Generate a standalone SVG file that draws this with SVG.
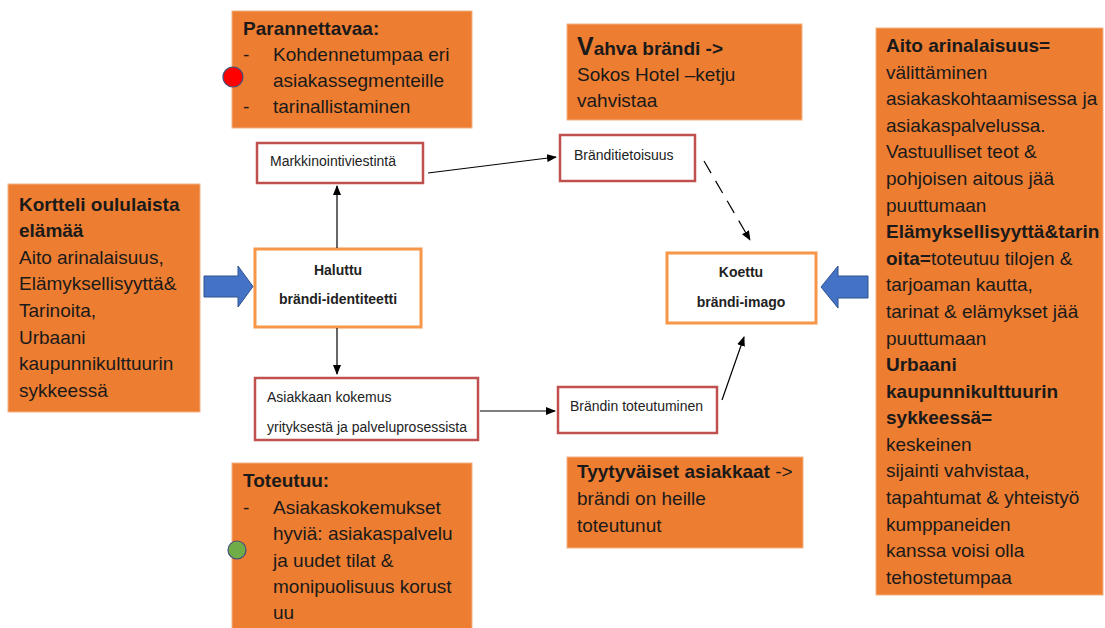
<svg xmlns="http://www.w3.org/2000/svg" width="1105" height="628" viewBox="0 0 1105 628">
<style>
.note{fill:#ed7d31;stroke:#f4b183;stroke-width:1}
.t{font-family:"Liberation Sans",Arial,sans-serif;font-size:19px;fill:#1a1a1a}
.b{font-weight:bold}
.node-red{fill:#fff;stroke:#c0504d;stroke-width:2.5}
.node-or{fill:#fff;stroke:#f79646;stroke-width:3}
.s{font-family:"Liberation Sans",Arial,sans-serif;font-size:14px;fill:#222}
.sb{font-family:"Liberation Sans",Arial,sans-serif;font-size:14px;font-weight:bold;fill:#222}
.ln{stroke:#000;stroke-width:1.2;fill:none}
.blue{fill:#4472c4;stroke:#2f528f;stroke-width:1}
</style>
<defs>
<marker id="ah" markerWidth="10" markerHeight="8" refX="9" refY="4" orient="auto" markerUnits="userSpaceOnUse">
<path d="M0,0 L10,4 L0,8 Z" fill="#000"/>
</marker>
</defs>
<rect width="1105" height="628" fill="#fff"/>

<g id="parannettavaa">
<rect class="note" x="232" y="11" width="240" height="117"/>
<circle cx="233" cy="77" r="10" fill="#ff0000" stroke="#41507a" stroke-width="1.2"/>
<text class="t b" x="243" y="35">Parannettavaa:</text>
<text class="t" x="243" y="61">-</text><text class="t" x="273" y="61">Kohdennetumpaa eri</text>
<text class="t" x="273" y="87">asiakassegmenteille</text>
<text class="t" x="243" y="113">-</text><text class="t" x="273" y="113">tarinallistaminen</text>
</g>

<g id="vahva">
<rect class="note" x="567" y="24" width="235" height="96"/>
<text class="t b" x="577" y="55"><tspan font-size="25">V</tspan>ahva brändi -&gt;</text>
<text class="t" x="577" y="81">Sokos Hotel –ketju</text>
<text class="t" x="577" y="107">vahvistaa</text>
</g>

<g id="kortteli">
<rect class="note" x="8" y="184" width="192" height="228"/>
<text class="t b" x="19" y="211">Kortteli oululaista</text>
<text class="t b" x="19" y="237">elämää</text>
<text class="t" x="19" y="264">Aito arinalaisuus,</text>
<text class="t" x="19" y="290">Elämyksellisyyttä&amp;</text>
<text class="t" x="19" y="317">Tarinoita,</text>
<text class="t" x="19" y="344">Urbaani</text>
<text class="t" x="19" y="370">kaupunnikulttuurin</text>
<text class="t" x="19" y="397">sykkeessä</text>
</g>

<g id="oikea">
<rect class="note" x="876" y="28" width="227" height="567"/>
<text class="t b" x="886" y="52">Aito arinalaisuus=</text>
<text class="t" x="886" y="79">välittäminen</text>
<text class="t" x="886" y="105">asiakaskohtaamisessa ja</text>
<text class="t" x="886" y="132">asiakaspalvelussa.</text>
<text class="t" x="886" y="158">Vastuulliset teot &amp;</text>
<text class="t" x="886" y="185">pohjoisen aitous jää</text>
<text class="t" x="886" y="212">puuttumaan</text>
<text class="t b" x="886" y="238">Elämyksellisyyttä&amp;tarin</text>
<text class="t" x="886" y="265"><tspan class="b">oita=</tspan>toteutuu tilojen &amp;</text>
<text class="t" x="886" y="291">tarjoaman kautta,</text>
<text class="t" x="886" y="318">tarinat &amp; elämykset jää</text>
<text class="t" x="886" y="345">puuttumaan</text>
<text class="t b" x="886" y="371">Urbaani</text>
<text class="t b" x="886" y="398">kaupunnikulttuurin</text>
<text class="t b" x="886" y="424">sykkeessä=</text>
<text class="t" x="886" y="451">keskeinen</text>
<text class="t" x="886" y="477">sijainti vahvistaa,</text>
<text class="t" x="886" y="504">tapahtumat &amp; yhteistyö</text>
<text class="t" x="886" y="531">kumppaneiden</text>
<text class="t" x="886" y="557">kanssa voisi olla</text>
<text class="t" x="886" y="584">tehostetumpaa</text>
</g>

<g id="toteutuu">
<rect class="note" x="232" y="463" width="240" height="170"/>
<circle cx="237" cy="550" r="9" fill="#70ad47" stroke="#41507a" stroke-width="1.2"/>
<text class="t b" x="243" y="487">Toteutuu:</text>
<text class="t" x="243" y="514">-</text><text class="t" x="273" y="514">Asiakaskokemukset</text>
<text class="t" x="273" y="540">hyviä: asiakaspalvelu</text>
<text class="t" x="273" y="567">ja uudet tilat &amp;</text>
<text class="t" x="273" y="593">monipuolisuus korust</text>
<text class="t" x="273" y="619">uu</text>
</g>

<g id="tyytyvaiset">
<rect class="note" x="567" y="457" width="236" height="91"/>
<text class="t" x="577" y="478"><tspan class="b">Tyytyväiset asiakkaat</tspan> -&gt;</text>
<text class="t" x="577" y="505">brändi on heille</text>
<text class="t" x="577" y="532">toteutunut</text>
</g>

<g id="markkinointi">
<rect class="node-red" x="257" y="143" width="166" height="40"/>
<text class="s" x="270" y="166">Markkinointiviestintä</text>
</g>

<g id="tietoisuus">
<rect class="node-red" x="560" y="135" width="135" height="46"/>
<text class="s" x="574" y="160">Bränditietoisuus</text>
</g>

<g id="haluttu">
<rect class="node-or" x="255" y="249" width="166" height="78"/>
<text class="sb" x="338" y="275" text-anchor="middle">Haluttu</text>
<text class="sb" x="338" y="304" text-anchor="middle">brändi-identiteetti</text>
</g>

<g id="koettu">
<rect class="node-or" x="667" y="253" width="149" height="70"/>
<text class="sb" x="741" y="277" text-anchor="middle">Koettu</text>
<text class="sb" x="741" y="307" text-anchor="middle">brändi-imago</text>
</g>

<g id="asiakkaan">
<rect class="node-red" x="255" y="378" width="223" height="62"/>
<text class="s" x="267" y="402">Asiakkaan kokemus</text>
<text class="s" x="267" y="432">yrityksestä ja palveluprosessista</text>
</g>

<g id="toteutuminen">
<rect class="node-red" x="558" y="387" width="159" height="46"/>
<text class="s" x="570" y="411">Brändin toteutuminen</text>
</g>

<g id="connectors">
<line class="ln" x1="428" y1="173" x2="556" y2="157" marker-end="url(#ah)"/>
<line class="ln" x1="337" y1="248" x2="337" y2="186" marker-end="url(#ah)"/>
<line class="ln" x1="337" y1="328" x2="337" y2="374" marker-end="url(#ah)"/>
<line class="ln" x1="480" y1="411" x2="555" y2="411" marker-end="url(#ah)"/>
<line class="ln" x1="722" y1="400" x2="744" y2="337" marker-end="url(#ah)" stroke="#333"/>
<line class="ln" x1="704" y1="161" x2="750" y2="240" stroke-dasharray="14,9" marker-end="url(#ah)" stroke="#333"/>
<path class="blue" d="M204,276 L238,276 L238,266 L253,286.5 L238,307 L238,297 L204,297 Z"/>
<path class="blue" d="M868,276 L838,276 L838,266 L821,287 L838,308 L838,298 L868,298 Z"/>
</g>
</svg>
